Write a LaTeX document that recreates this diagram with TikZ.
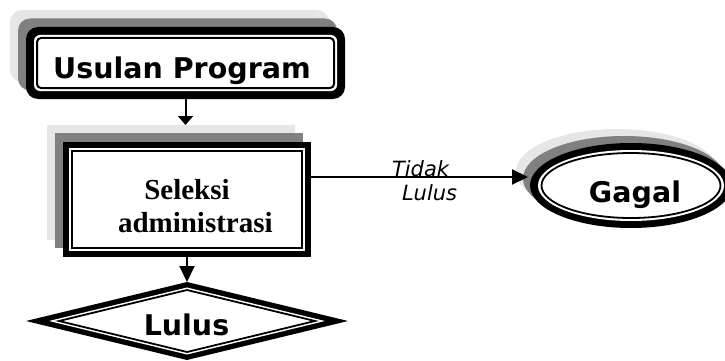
\documentclass[tikz,border=0pt]{standalone}
\usepackage{fontspec}
\setmainfont{Liberation Serif}
\newfontfamily\vsans{DejaVu Sans}
\usetikzlibrary{arrows.meta,shapes.geometric}
\definecolor{shA}{HTML}{E6E6E6}
\definecolor{shB}{HTML}{808080}
\tikzset{
  conn/.style={line width=2pt, -{Triangle[length=16pt,width=15pt]}},
  connshort/.style={line width=2pt, -{Triangle[length=9pt,width=15pt]}},
  bigtxt/.style={font=\vsans\bfseries\fontsize{28.5}{34}\selectfont, inner sep=0pt, outer sep=0pt},
  seltxt/.style={font=\bfseries\fontsize{29}{33}\selectfont, inner sep=0pt, outer sep=0pt},
  lbl/.style={font=\vsans\itshape\fontsize{21}{25}\selectfont, inner sep=0pt, outer sep=0pt},
  boxA/.style={inner sep=0pt, outer sep=0pt, minimum width=319pt, minimum height=72pt, rounded corners=12pt},
  boxB/.style={inner sep=0pt, outer sep=0pt, minimum width=248pt, minimum height=115pt},
  ellA/.style={ellipse, inner sep=0pt, outer sep=0pt, minimum width=202pt, minimum height=85pt},
  thinline/.style={line width=2pt}
}
\begin{document}
\begin{tikzpicture}[x=1pt,y=-1pt]
\useasboundingbox (0,0) rectangle (725,361);
% ---- Usulan Program ----
\node[boxA, fill=shA] (usA) at (169.5,46) {};
\node[boxA, fill=shB] (usB) at (177.5,54.5) {};
\node[boxA, fill=black] (usulanbox) at (185.5,63) {};
\node[fill=white, rounded corners=6pt, inner sep=0pt, minimum width=303pt, minimum height=56pt] (usW) at (185.5,63) {};
\node[draw, thinline, rounded corners=4pt, inner sep=0pt, minimum width=297pt, minimum height=50pt] (usT) at (185.5,63) {};
\node[bigtxt, anchor=base] (usulan) at (182,78) {Usulan Program};
% ---- Seleksi administrasi ----
\node[boxB, fill=shA] (selA) at (171,182.5) {};
\node[boxB, fill=shB] (selB) at (179,190.5) {};
\node[boxB, fill=black] (sel) at (187,199.5) {};
\node[fill=white, inner sep=0pt, minimum width=236pt, minimum height=103pt] (selW) at (187,199.5) {};
\node[draw, thinline, inner sep=0pt, minimum width=230pt, minimum height=97pt] (selT) at (187,199.5) {};
\node[seltxt, anchor=base] (seltxt1) at (187,199) {Seleksi};
\node[seltxt, anchor=base west] (seltxt2) at (118,232) {administrasi};
% ---- Lulus diamond ----
\coordinate (lulustop) at (187,282);
\fill[black] (26,321) -- (187,282) -- (348,321) -- (187,360) -- cycle;
\fill[white] (49,321) -- (187,287.5) -- (325,321) -- (187,354.5) -- cycle;
\draw[line width=1.8pt, line join=miter] (59,321) -- (187,290) -- (315,321) -- (187,352) -- cycle;
\node[bigtxt, anchor=base] (lulus) at (186.5,335) {Lulus};
% ---- Gagal ellipse ----
\node[ellA, fill=shA] (gA) at (617,171.5) {};
\node[ellA, fill=shB] (gB) at (624,178.5) {};
\node[ellA, fill=black] (gagalbox) at (631,185.5) {};
\node[ellipse, fill=white, inner sep=0pt, minimum width=186pt, minimum height=71pt] (gW) at (631,185.5) {};
\node[ellipse, draw, line width=1.8pt, inner sep=0pt, minimum width=179pt, minimum height=65pt] (gT) at (631,185.5) {};
\node[bigtxt, anchor=base] (gagal) at (635,202) {Gagal};
% ---- connectors ----
\coordinate (gtip) at (528,177);
\draw[connshort] (usulanbox.south) -- (usulanbox.south |- selA.north);
\draw[conn] (sel.south) -- (lulustop);
\draw[conn] (sel.east |- gtip) -- (gtip);
\node[lbl, anchor=base west] (lab1) at (392,176) {Tidak};
\node[lbl, anchor=base west] (lab2) at (402,200) {Lulus};
\end{tikzpicture}
\end{document}
